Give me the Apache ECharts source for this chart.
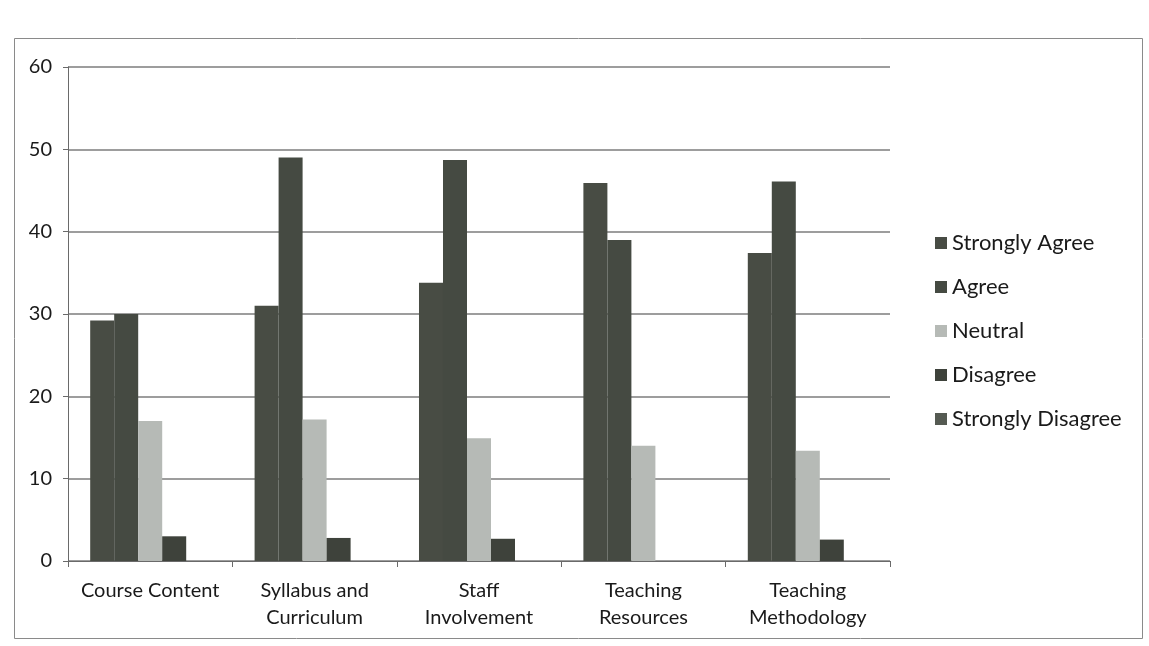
<!DOCTYPE html>
<html>
<head>
<meta charset="utf-8">
<script src="https://cdn.jsdelivr.net/npm/echarts@6/dist/echarts.min.js"></script>
<style>html,body{margin:0;padding:0;background:#fff}#c{width:1149px;height:646px}</style>
</head>
<body>
<div id="c"></div>
<script>
const categories = ['Course Content', 'Syllabus and\nCurriculum', 'Staff\nInvolvement', 'Teaching\nResources', 'Teaching\nMethodology'];
const seriesNames = ['Strongly Agree', 'Agree', 'Neutral', 'Disagree', 'Strongly Disagree'];
const stronglyAgree = [29.2, 31, 33.8, 45.9, 37.4];
const agree = [30, 49, 48.7, 39, 46.1];
const neutral = [17, 17.2, 14.9, 14, 13.4];
const disagree = [3, 2.8, 2.7, 0, 2.6];
const stronglyDisagree = [0, 0, 0, 0, 0];
const yTicks = [0, 10, 20, 30, 40, 50, 60];

const colors = ['#484c44', '#454a42', '#b6bab6', '#3e423b', '#555a52'];
const data = [stronglyAgree, agree, neutral, disagree, stronglyDisagree];
const font = 'Lato, "Open Sans", sans-serif';

const chart = echarts.init(document.getElementById('c'));
chart.setOption({
  backgroundColor: '#ffffff',
  animation: false,
  graphic: [{
    type: 'rect', left: 12, top: 36, shape: { width: 1128, height: 600 },
    style: { fill: 'none', stroke: '#8a8a8a', lineWidth: 1 }, silent: true
  }],
  grid: { left: 68, right: 259, top: 67, bottom: 85 },
  legend: {
    orient: 'vertical', left: 930, top: 227, itemGap: 22,
    itemWidth: 12, itemHeight: 12, icon: 'rect',
    textStyle: { fontFamily: font, fontSize: 22, color: '#1a1a1a' },
    data: seriesNames
  },
  xAxis: {
    type: 'category', data: categories,
    axisLine: { lineStyle: { color: '#6a6a6a' } },
    axisTick: { show: true, alignWithLabel: false, length: 6, lineStyle: { color: '#6a6a6a' } },
    axisLabel: { fontFamily: font, fontSize: 20, color: '#1a1a1a', lineHeight: 27, margin: 16, interval: 0 }
  },
  yAxis: {
    type: 'value', min: 0, max: 60, interval: 10,
    axisLine: { show: true, lineStyle: { color: '#6a6a6a' } },
    axisTick: { show: true, length: 5, lineStyle: { color: '#6a6a6a' } },
    axisLabel: { fontFamily: font, fontSize: 20, color: '#1a1a1a', margin: 16,
      formatter: v => yTicks.includes(v) ? String(v) : '' },
    splitLine: { lineStyle: { color: '#7d7d7d', width: 1.5 } }
  },
  series: seriesNames.map((name, i) => ({
    name, type: 'bar', data: data[i],
    barGap: '0%', barCategoryGap: '27%',
    itemStyle: { color: colors[i] }
  }))
});
</script>
</body>
</html>
